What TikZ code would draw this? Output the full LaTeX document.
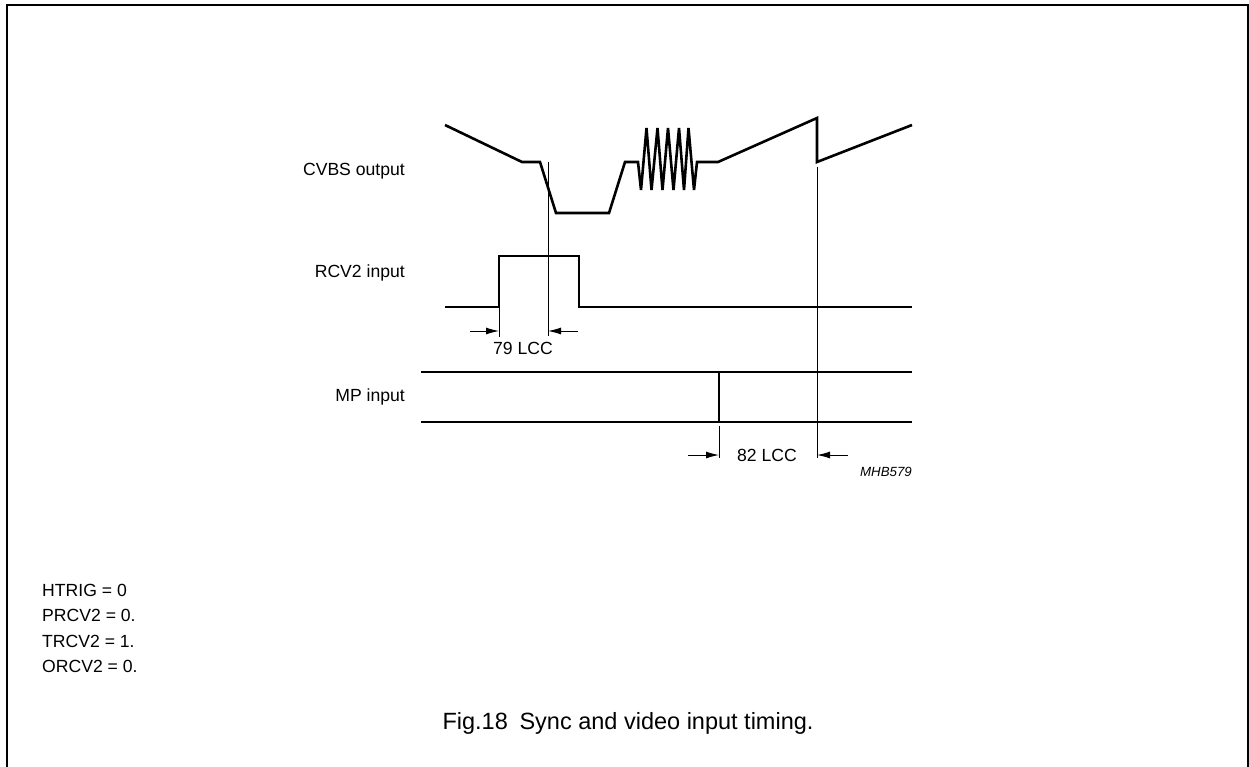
\documentclass[tikz,border=0pt]{standalone}
\usepackage{fontspec}
\setmainfont{Liberation Sans}
\usetikzlibrary{arrows.meta}
\begin{document}
\begin{tikzpicture}[x=1pt,y=-1pt,
  wave/.style={line width=2.6pt, line join=miter},
  thinln/.style={line width=1pt},
  dimarrow/.style={line width=1pt,-{Latex[length=13pt,width=7pt]}},
  lbl/.style={font=\fontsize{17.6}{20}\selectfont, inner sep=0pt},
  capt/.style={font=\fontsize{23.5}{28}\selectfont, inner sep=0pt},
  tag/.style={font=\fontsize{13.3}{16}\selectfont\itshape, inner sep=0pt}]
\useasboundingbox (0,0) rectangle (1249,766);
% frame (open at bottom)
\draw[line width=2pt] (7,780) -- (7,5) -- (1248,5) -- (1248,780);

% CVBS output waveform
\draw[wave] (445,125) -- (522,162) -- (540,162) -- (556,213) -- (609,213) -- (625,162) -- (638,162)
  -- (641,190) -- (646.5,128) -- (651.5,190) -- (657.5,128) -- (662.5,190) -- (668,128)
  -- (673.5,190) -- (679,128) -- (684,190) -- (688.5,128) -- (694,190) -- (697,162)
  -- (718,162) -- (817,118) -- (817,162) -- (912,125);

% RCV2 input waveform
\draw[wave] (445,307) -- (499,307) -- (499,256) -- (579,256) -- (579,307) -- (912,307);

% MP input
\draw[wave] (421,372) -- (912,372);
\draw[wave] (421,422) -- (912,422);
\draw[wave] (719,372) -- (719,422);

% reference lines
\coordinate (r1t) at (548,162);
\coordinate (r1b) at (548,336);
\coordinate (r2t) at (817,167);
\coordinate (r2b) at (817,458);
\coordinate (e1t) at (499,307);
\coordinate (e1b) at (499,337);
\coordinate (e2t) at (719,426);
\coordinate (e2b) at (719,458);
\draw[thinln] (r1t) -- (r1b);
\draw[thinln] (r2t) -- (r2b);
\draw[thinln] (e1t) -- (e1b);
\draw[thinln] (e2t) -- (e2b);

% dimension arrows
\coordinate (a1s) at (470,331);
\coordinate (a1e) at (499,331);
\coordinate (a2s) at (578,331);
\coordinate (a2e) at (548,331);
\coordinate (b1s) at (688,455);
\coordinate (b1e) at (719,455);
\coordinate (b2s) at (848,455);
\coordinate (b2e) at (817,455);
\draw[dimarrow] (a1s) -- (a1e);
\draw[dimarrow] (a2s) -- (a2e);
\draw[dimarrow] (b1s) -- (b1e);
\draw[dimarrow] (b2s) -- (b2e);

% labels
\node[lbl, anchor=east] (cvbs) at (405,171.5) {CVBS output};
\node[lbl, anchor=east] (rcv) at (405,273) {RCV2 input};
\node[lbl, anchor=east] (mp) at (405,396.5) {MP input};
\node[lbl] (d79) at (523,348) {79 LCC};
\node[lbl] (d82) at (767,455) {82 LCC};
\node[tag, anchor=east] (code) at (912,472) {MHB579};

\node[lbl, anchor=west] (n1) at (42,590) {HTRIG = 0};
\node[lbl, anchor=west] (n2) at (42,615.5) {PRCV2 = 0.};
\node[lbl, anchor=west] (n3) at (42,641) {TRCV2 = 1.};
\node[lbl, anchor=west] (n4) at (42,666.5) {ORCV2 = 0.};

\node[capt] (cap) at (628,723) {Fig.18\hspace{0.5em}Sync and video input timing.};
\end{tikzpicture}
\end{document}
